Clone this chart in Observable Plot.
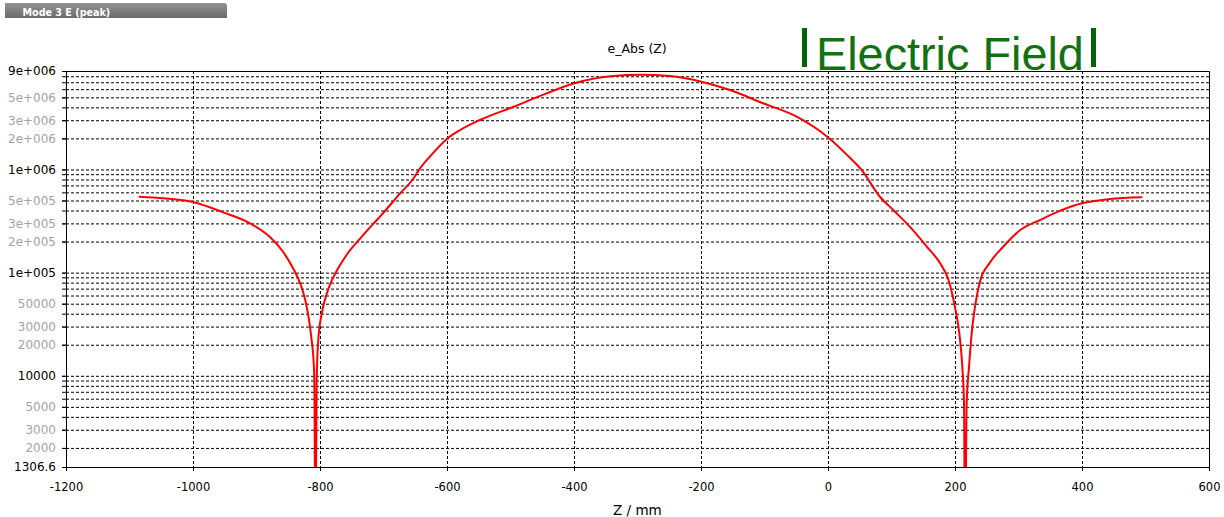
<!DOCTYPE html>
<html>
<head>
<meta charset="utf-8">
<script src="https://cdn.jsdelivr.net/npm/d3@7"></script>
<script src="https://cdn.jsdelivr.net/npm/@observablehq/plot@0.6"></script>
<style>
  html, body { margin: 0; padding: 0; background: #fff; }
  #wrap { position: relative; width: 1224px; height: 517px; overflow: hidden; }
  .ov { position: absolute; white-space: nowrap; line-height: 1; }
</style>
</head>
<body>
<div id="wrap">
  <div class="ov" style="left:5px;top:3px;width:222px;height:14.5px;background:linear-gradient(#929292,#6c6c6c);border-top-right-radius:3px;"></div>
  <div class="ov" style="left:22.5px;top:7px;font:bold 9.6px 'DejaVu Sans';color:#fff;">Mode 3 E (peak)</div>
  <div class="ov" style="left:607.5px;top:41px;font:12.5px 'DejaVu Sans';color:#000;">e_Abs (Z)</div>
  <div class="ov" style="left:802px;top:28px;width:5px;height:39px;background:#006400;"></div>
  <div class="ov" style="left:816px;top:27.3px;font:46.8px 'Liberation Sans';color:#127212;">Electric Field</div>
  <div class="ov" style="left:1091px;top:28px;width:5px;height:39px;background:#006400;"></div>
  <div class="ov" style="left:613px;top:502px;font:13.5px 'DejaVu Sans';color:#000;">Z / mm</div>
  <div id="chart"></div>
</div>
<script>
// Z positions (mm)
const zPos = [
  -1085, -1047, -1001, -953, -911, -880, -859, -843, -832, -824, -818, -814, -811, -809.7,
  -808,
  -806, -803.5, -798, -790, -782, -772, -759, -738, -717, -706, -685, -675, -656, -643, -628,
  -601, -580, -549, -496, -444, -400, -339, -295, -250, -200, -155, -103, -50, 0, 29, 52,
  81, 102, 128, 155, 176, 189, 199, 206, 210.7, 213.4,
  215,
  217.6, 221.3, 225.5, 230.7, 238.6, 254, 275, 302, 333, 365, 399, 443, 493
];
// |E| peak values (V/m)
const eAbs = [
  5.5e5, 5.31e5, 4.89e5, 3.88e5, 3.04e5, 2.25e5, 1.61e5, 1.11e5, 7.97e4, 5.49e4, 3.5e4, 2.25e4, 1.44e4, 9200,
  200,
  9200, 2.25e4, 4.07e4, 6.37e4, 8.57e4, 1.12e5, 1.5e5, 2.15e5, 3.0e5, 3.55e5, 5.0e5, 5.9e5, 7.9e5, 1.04e6, 1.34e6,
  2.0e6, 2.44e6, 3.05e6, 4.1e6, 5.53e6, 6.92e6, 8.13e6, 8.35e6, 8.13e6, 7.17e6, 5.95e6, 4.43e6, 3.28e6, 2.05e6, 1.4e6, 1.0e6,
  5.5e5, 4.09e5, 2.82e5, 1.8e5, 1.24e5, 8.57e4, 4.73e4, 2.61e4, 1.24e4, 5470,
  200,
  5470, 1.24e4, 2.61e4, 4.73e4, 8.3e4, 1.26e5, 1.8e5, 2.62e5, 3.27e5, 4.03e5, 4.75e5, 5.23e5, 5.43e5
];
// axis ticks
const xTicks = [-1200, -1000, -800, -600, -400, -200, 0, 200, 400, 600];
const yTicksDark = [1306.6, 10000, 1e5, 1e6, 9e6];
const yTicksGray = [2000, 3000, 5000, 20000, 30000, 50000, 2e5, 3e5, 5e5, 2e6, 3e6, 5e6];
const yGridMult = [1, 2, 3, 4, 5, 6, 7, 8, 9];
const yGridDecades = [1000, 10000, 1e5, 1e6];

const yMin = 1306.6, yMax = 9e6;
const yGrid = yGridDecades.flatMap(dec => yGridMult.map(m => m * dec)).filter(v => v > yMin && v <= yMax);

const data = zPos.map((z, i) => ({z, e: eAbs[i]}));

function fmt(v) {
  if (v === 1306.6) return "1306.6";
  if (v >= 1e5) {
    const exp = Math.floor(Math.log10(v) + 1e-9);
    const mant = Math.round(v / Math.pow(10, exp));
    return `${mant}e+${String(exp).padStart(3, "0")}`;
  }
  return String(v);
}

const chart = Plot.plot({
  width: 1224,
  height: 517,
  marginTop: 71,
  marginBottom: 50,
  marginLeft: 66,
  marginRight: 15,
  style: {fontFamily: "DejaVu Sans", fontSize: "12px", background: "transparent", overflow: "visible"},
  x: {domain: [-1200, 600], label: null},
  y: {type: "log", domain: [yMin, yMax], label: null},
  marks: [
    Plot.gridY(yGrid, {stroke: "#000", strokeOpacity: 1, strokeDasharray: "3,2"}),
    Plot.gridX(xTicks.slice(1, -1), {stroke: "#000", strokeOpacity: 1, strokeDasharray: "3,2"}),
    Plot.line(data, {x: "z", y: "e", stroke: "#ff0000", strokeWidth: 2, curve: "monotone-x", clip: true}),
    Plot.frame({stroke: "#000"}),
    Plot.axisY(yGrid, {text: null, tickSize: 4, stroke: "#000", label: null}),
    Plot.axisY(yTicksDark, {tickSize: 4, tickPadding: 6.5, text: d => fmt(d), fill: "#000", stroke: "#000", fontSize: 12, label: null}),
    Plot.axisY(yTicksGray, {tickSize: 4, tickPadding: 6.5, text: d => fmt(d), fill: "#a3a3a3", stroke: "#000", fontSize: 12, label: null}),
    Plot.axisX(xTicks, {tickSize: 4, tickPadding: 11, fontSize: 11.5, fill: "#000", stroke: "#000", label: null, text: d => String(d)})
  ]
});
document.getElementById("chart").appendChild(chart);
</script>
</body>
</html>
